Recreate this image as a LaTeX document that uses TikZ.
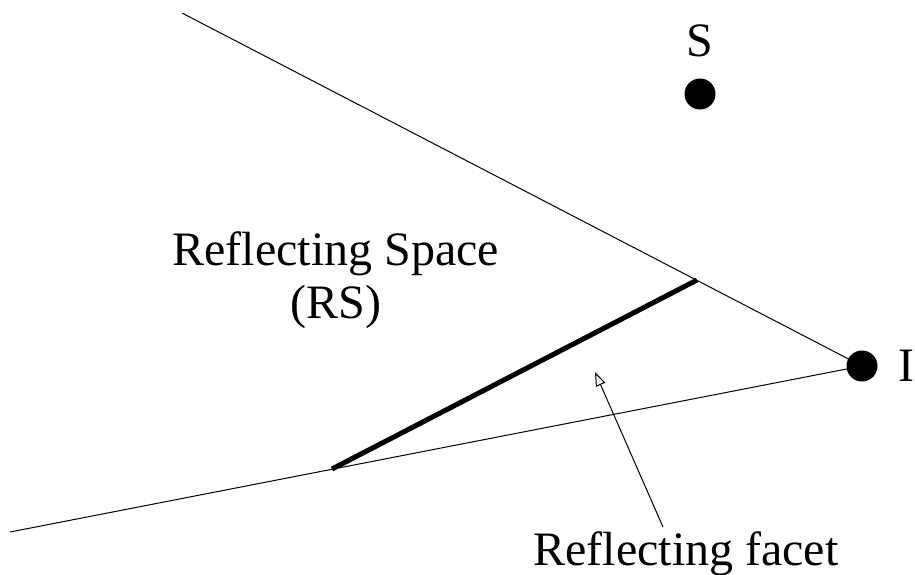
\documentclass[tikz,border=0pt]{standalone}
\usepackage{fontspec}
\setmainfont{Liberation Serif}
\usetikzlibrary{arrows.meta, positioning}

\begin{document}
\begin{tikzpicture}[x=0.5pt, y=-0.5pt, font=\fontsize{24}{26}\selectfont,
        dot/.style={circle, fill=black, inner sep=0pt, minimum size=15.5pt},
        lbl/.style={inner sep=0pt},
        ray/.style={line width=0.5pt}]
  \useasboundingbox (0,0) rectangle (915,574);
  \node[dot] (S) at (700,94) {};
  \node[dot] (I) at (862,366) {};
  \node[lbl, above=10.5pt of S] (Slbl) {S};
  \node[lbl, right=10pt of I] (Ilbl) {I};
  \node[lbl, anchor=base west] (rs) at (172,265) {Reflecting Space};
  \node[lbl, anchor=base] (rsabbr) at ([yshift=-26.5pt]rs.base) {(RS)};
  \node[lbl, anchor=base west] (facetlbl) at (533,565) {Reflecting facet};
  \coordinate (upEnd) at (182,13);
  \coordinate (lowEnd) at (10,532);
  \coordinate (fA) at (332,469);
  \coordinate (fB) at (697,280);
  \coordinate (arrowTail) at (663,527);
  \coordinate (arrowTip) at (595,372);
  % boundary of the reflecting space
  \draw[ray] (upEnd) -- (I.center);
  \draw[ray] (lowEnd) -- (I.center);
  \draw[line width=2.5pt] (fA) -- (fB);
  \draw[ray, -{Triangle[open, length=7pt, width=5pt]}] (arrowTail) -- (arrowTip);
\end{tikzpicture}
\end{document}
